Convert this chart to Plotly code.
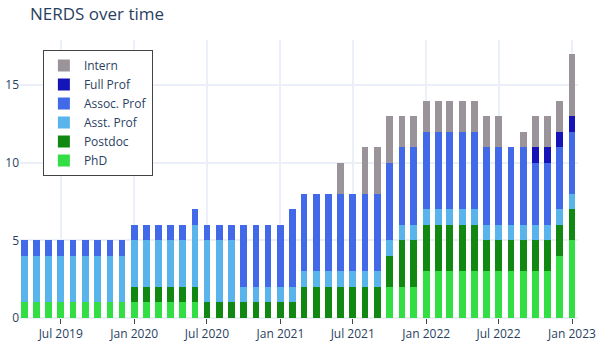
import plotly.graph_objects as go

months = ["2019-04", "2019-05", "2019-06", "2019-07", "2019-08", "2019-09", "2019-10", "2019-11", "2019-12",
          "2020-01", "2020-02", "2020-03", "2020-04", "2020-05", "2020-06", "2020-07", "2020-08", "2020-09",
          "2020-10", "2020-11", "2020-12", "2021-01", "2021-02", "2021-03", "2021-04", "2021-05", "2021-06",
          "2021-07", "2021-08", "2021-09", "2021-10", "2021-11", "2021-12", "2022-01", "2022-02", "2022-03",
          "2022-04", "2022-05", "2022-06", "2022-07", "2022-08", "2022-09", "2022-10", "2022-11", "2022-12",
          "2023-01"]
dates = [m + "-01" for m in months]

phd =     [1,1,1,1,1,1,1,1,1, 1,1,1,1,1,1, 0,0,0, 0,0,0,0, 0, 0,0,0, 0, 0, 0,0, 2, 2,2, 3,3,3,3,3, 3,3, 3, 3, 3,3, 4, 5]
postdoc = [0,0,0,0,0,0,0,0,0, 1,1,1,1,1,1, 1,1,1, 1,1,1,1, 1, 2,2,2, 2, 2, 2,2, 2, 3,3, 3,3,3,3,3, 2,2, 2, 2, 2,2, 2, 2]
asst =    [3,3,3,3,3,3,3,3,3, 3,3,3,3,3,4, 4,4,4, 1,1,1,1, 1, 1,1,1, 1, 1, 1,1, 1, 1,1, 1,1,1,1,1, 1,1, 1, 1, 1,1, 1, 1]
assoc =   [1,1,1,1,1,1,1,1,1, 1,1,1,1,1,1, 1,1,1, 4,4,4,4, 5, 5,5,5, 5, 5, 5,5, 5, 5,5, 5,5,5,5,5, 5,5, 5, 5, 4,4, 4, 4]
full =    [0,0,0,0,0,0,0,0,0, 0,0,0,0,0,0, 0,0,0, 0,0,0,0, 0, 0,0,0, 0, 0, 0,0, 0, 0,0, 0,0,0,0,0, 0,0, 0, 0, 1,1, 1, 1]
intern =  [0,0,0,0,0,0,0,0,0, 0,0,0,0,0,0, 0,0,0, 0,0,0,0, 0, 0,0,0, 2, 0, 3,3, 3, 2,2, 2,2,2,2,2, 2,2, 0, 1, 2,2, 2, 4]

series = [
    ("PhD", phd, "#33dd44"),
    ("Postdoc", postdoc, "#118811"),
    ("Asst. Prof", asst, "#5ab4ec"),
    ("Assoc. Prof", assoc, "#4169e8"),
    ("Full Prof", full, "#1414b8"),
    ("Intern", intern, "#9a9399"),
]

fig = go.Figure()
for name, vals, color in series:
    fig.add_trace(go.Bar(x=dates, y=vals, name=name, marker=dict(color=color, line=dict(width=0))))

fig.update_layout(
    template="plotly_white",
    barmode="stack",
    bargap=0.4,
    width=600, height=360,
    title=dict(text="NERDS over time", font=dict(size=17), x=0.05, xanchor="left",
               y=1 - 14 / 360, yanchor="middle", xref="container", yref="container"),
    margin=dict(l=20, r=22, t=40, b=42),
    legend=dict(x=0.041, y=0.964, xanchor="left", yanchor="top",
                bordercolor="#444", borderwidth=1, bgcolor="rgba(255,255,255,1)",
                font=dict(size=12)),
    xaxis=dict(ticks="outside", tickformat="%b %Y", dtick="M6", tick0="2019-07-01",
               showgrid=True, gridcolor="#EBF0F8", gridwidth=2, automargin=False,
               range=["2019-03-21", "2023-01-16"]),
    yaxis=dict(dtick=5, automargin=False, gridcolor="#EBF0F8", gridwidth=2),
)
fig.write_html("out.html", config={"displayModeBar": False},
               post_script="document.body.style.margin='0';")
